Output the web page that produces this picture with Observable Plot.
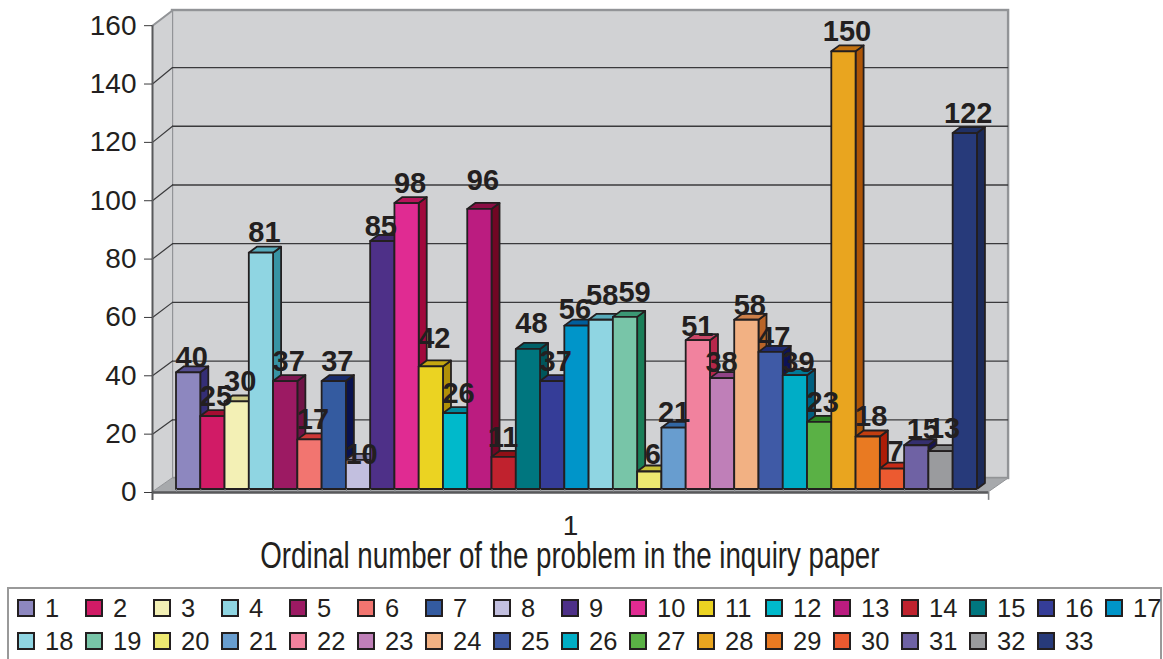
<!DOCTYPE html>
<html>
<head>
<meta charset="utf-8">
<script src="https://cdn.jsdelivr.net/npm/d3@7"></script>
<script src="https://cdn.jsdelivr.net/npm/@observablehq/plot@0.6"></script>
<style>
html,body{margin:0;padding:0;background:#fff;overflow:hidden}
#chart svg{display:block}
#title{height:50px;line-height:37px;text-align:center;width:1140px;font-family:"Liberation Sans",sans-serif;font-size:34px;color:#231f20;white-space:nowrap}
#title span{display:inline-block;transform:scaleX(.815) scaleY(1.06);transform-origin:center}
#legend{position:relative;box-sizing:border-box;margin-left:7px;width:1155px;height:80px;border:2px solid #999;font-family:"Liberation Sans",sans-serif;font-size:25.5px;color:#231f20}
#legend .k{position:absolute;display:flex;align-items:center;height:20px;line-height:20px}
#legend i{display:block;box-sizing:border-box;width:18px;height:18px;border:2px solid #231f20;margin-right:10px}
</style>
</head>
<body>
<div id="chart"></div>
<div id="title"><span></span></div>
<div id="legend"></div>
<script>
const problems = d3.range(1, 34);
const counts = [40,25,30,81,37,17,37,10,85,98,42,26,96,11,48,37,56,58,59,6,21,51,38,58,47,39,23,150,18,7,15,13,122];
const colors = ["#8d87bf","#d11b66","#f3f0b5","#8fd5e2","#9c1a63","#f27570","#345ba0","#c2bfdf","#4e3088","#e02b92","#ebd322","#00b9cb","#bb1c80","#c0222e","#00767f","#353d98","#0095c9","#8fd5e2","#78c5a8","#ede871","#689dcf","#f1829e","#bf7fb8","#f2b183","#3f5aa6","#00adc6","#5ab145","#e9a51f","#e97a22","#ec5a30","#6f62a4","#9a9b9e","#273a7a"];
const yTicks = [0,20,40,60,80,100,120,140,160];
const gridValues = [20,40,60,80,100,120,140];
const xTickLabel = "1";
const xTitle = "Ordinal number of the problem in the inquiry paper";

// Depth of the pseudo-3D box, expressed in scale units
const wallDx = 0.824, wallDy = 4.8, wallStretch = 1.006;
const barDx = 0.33, barDy = 2.05, barBase = 1.03;
const frontL = -0.989, frontR = 33.46;
const top3d = 160 + wallDy + 0.4;

// Hand-read label nudges (pixels), by problem number
const labelDy = {1:-15,8:-6,9:-15,11:-28,13:-29,15:-26,17:-16,18:-25,19:-25,20:-17,21:-16,22:-14,23:-16,24:-15,25:-15,26:-13,30:-17,31:-16,32:-23};
const labelDx = {9:-2,14:-1,17:-2,18:1,19:9,21:0,22:-1,23:-1,31:6};

// Shaded faces of a bar: deepen the front colour the way the reference's side faces do
function sideColor(c) {
  const r = d3.rgb(c);
  const dark = Math.max(r.r, r.g, r.b) < 160;
  const f = x => dark ? x * 0.72 : Math.max(1.3 * x - 130, 0.2 * x);
  return d3.rgb(f(r.r), f(r.g), f(r.b)).formatHex();
}
function topColor(c) {
  return d3.interpolateRgb(c, sideColor(c))(0.65);
}

const ink = "#231f20", wall = "#d1d2d4", edge = "#929497", floor = "#a7a9ac";

const barMarks = counts.flatMap((v, i) => {
  const x0 = i, x1 = i + 1, b = barBase, t = v + barBase, c = colors[i];
  const line = {stroke: ink, strokeWidth: 1.8, strokeLinejoin: "round"};
  return [
    Plot.areaY([{x: x1, y1: b, y2: t}, {x: x1 + barDx, y1: b + barDy, y2: t + barDy}],
      {x: "x", y1: "y1", y2: "y2", fill: sideColor(c), ...line}),
    Plot.areaX([{y: t, x1: x0, x2: x1}, {y: t + barDy, x1: x0 + barDx, x2: x1 + barDx}],
      {y: "y", x1: "x1", x2: "x2", fill: topColor(c), ...line}),
    Plot.rect([{x1: x0, x2: x1, y1: b, y2: t}],
      {x1: "x1", x2: "x2", y1: "y1", y2: "y2", fill: c, ...line})
  ];
});

const labelMarks = counts.map((v, i) => Plot.text([{x: i + 0.5, y: v + barBase, t: String(v)}], {
  x: "x", y: "y", text: "t",
  dx: labelDx[i + 1] ?? 3, dy: labelDy[i + 1] ?? -20,
  fontSize: 29, fontWeight: "bold", fill: ink, textAnchor: "middle", lineAnchor: "middle"
}));

const plot = Plot.plot({
  width: 1163, height: 537,
  marginLeft: 152, marginRight: 155, marginTop: 10, marginBottom: 45,
  style: {fontFamily: "'Liberation Sans', Arial, sans-serif", background: "transparent", overflow: "visible"},
  x: {type: "linear", domain: [frontL, 34.28], axis: null},
  y: {type: "linear", domain: [0, top3d], axis: null},
  marks: [
    // back wall
    Plot.rect([{x1: frontL + wallDx, x2: frontR + wallDx, y1: wallDy, y2: top3d}],
      {x1: "x1", x2: "x2", y1: "y1", y2: "y2", fill: wall, stroke: edge, strokeWidth: 2.4}),
    // left wall
    Plot.areaY([{x: frontL, y1: 0, y2: 160}, {x: frontL + wallDx, y1: wallDy, y2: top3d}],
      {x: "x", y1: "y1", y2: "y2", fill: wall}),
    Plot.line([{x: frontL, y: 160}, {x: frontL + wallDx, y: top3d}], {x: "x", y: "y", stroke: edge, strokeWidth: 2}),
    // gridlines: back wall and left wall
    Plot.ruleY(gridValues, {y: d => d * wallStretch + wallDy, x1: frontL + wallDx, x2: frontR + wallDx, stroke: "#3a3a3c", strokeWidth: 1.3}),
    ...gridValues.map(g => Plot.line([{x: frontL, y: g}, {x: frontL + wallDx, y: g * wallStretch + wallDy}], {x: "x", y: "y", stroke: "#3a3a3c", strokeWidth: 1.2})),
    // floor
    Plot.areaX([{y: 0, x1: frontL, x2: frontR}, {y: wallDy, x1: frontL + wallDx, x2: frontR + wallDx}],
      {y: "y", x1: "x1", x2: "x2", fill: floor, stroke: edge, strokeWidth: 1}),
    ...barMarks,
    // front edges of the box
    Plot.ruleY([0], {x1: frontL, x2: frontR, stroke: "#58595b", strokeWidth: 2.6}),
    Plot.ruleX(d3.range(0, 34), {y1: 0, y2: barBase, stroke: "#808285", strokeWidth: 1}),
    Plot.ruleX([frontL], {y1: -2.7, y2: 160, stroke: "#58595b", strokeWidth: 2}),
    Plot.ruleX([frontR], {y1: -2.7, y2: 0, stroke: "#808285", strokeWidth: 1.6}),
    Plot.axisY({ticks: yTicks, anchor: "left", tickSize: 8, tickPadding: 8, fontSize: 28, fill: ink, stroke: "#3a3a3c", label: null}),
    Plot.axisX({ticks: [(frontL + frontR) / 2], tickFormat: () => xTickLabel, tickSize: 0, tickPadding: 23,
      fontSize: 28, fill: ink, label: null}),
    ...labelMarks
  ]
});
document.getElementById("chart").append(plot);
document.querySelector("#title span").textContent = xTitle;

const legend = document.getElementById("legend");
problems.forEach((p, i) => {
  const row = i < 17 ? 0 : 1, col = i < 17 ? i : i - 17;
  const k = document.createElement("div");
  k.className = "k";
  k.style.left = (8 + 68 * col) + "px";
  k.style.top = (row === 0 ? 9 : 42) + "px";
  const sw = document.createElement("i");
  sw.style.background = colors[i];
  k.append(sw, document.createTextNode(String(p)));
  legend.append(k);
});
</script>
</body>
</html>
